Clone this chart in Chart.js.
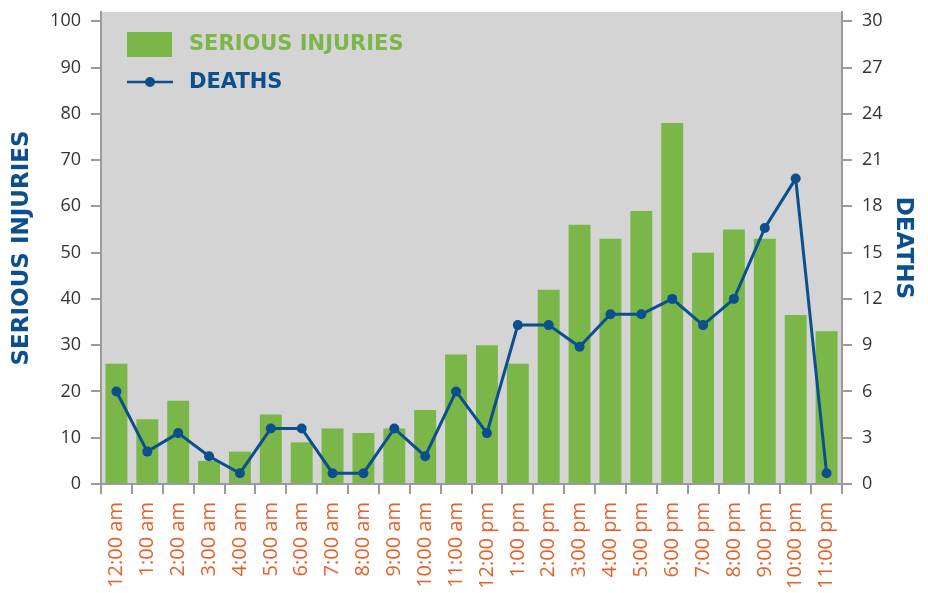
<!DOCTYPE html>
<html>
<head>
<meta charset="utf-8">
<script src="https://cdn.jsdelivr.net/npm/chart.js@4/dist/chart.umd.min.js"></script>
<style>
  html, body { margin: 0; padding: 0; background: #ffffff; }
  #wrap { width: 928px; height: 593px; }
</style>
</head>
<body>
<div id="wrap"><canvas id="c" width="928" height="593"></canvas></div>
<script>
const categories = ['12:00 am','1:00 am','2:00 am','3:00 am','4:00 am','5:00 am','6:00 am','7:00 am','8:00 am','9:00 am','10:00 am','11:00 am',
                    '12:00 pm','1:00 pm','2:00 pm','3:00 pm','4:00 pm','5:00 pm','6:00 pm','7:00 pm','8:00 pm','9:00 pm','10:00 pm','11:00 pm'];
const seriousInjuries = [26,14,18,5,7,15,9,12,11,12,16,28,30,26,42,56,53,59,78,50,55,53,36.5,33];
const deaths = [6,2.1,3.3,1.8,0.7,3.6,3.6,0.7,0.7,3.6,1.8,6,3.3,10.3,10.3,8.9,11,11,12,10.3,12,16.6,19.8,0.7];
const leftTicks = [0,10,20,30,40,50,60,70,80,90,100];
const rightTicks = [0,3,6,9,12,15,18,21,24,27,30];

const GREEN = '#7ab648';
const BLUE = '#0b4f8f';
const ORANGE = '#e5602a';
const AXIS = '#9a9a9a';
const TXT = '#333333';

const bgPlugin = {
  id: 'bg',
  beforeDraw(chart) {
    const a = chart.chartArea, ctx = chart.ctx;
    ctx.save();
    ctx.fillStyle = '#d4d4d4';
    ctx.fillRect(a.left, a.top, a.right - a.left, a.bottom - a.top);
    ctx.restore();
  }
};

const legendPlugin = {
  id: 'customLegend',
  afterDraw(chart) {
    const a = chart.chartArea, ctx = chart.ctx;
    const x0 = a.left + 26, y1 = a.top + 32, y2 = a.top + 70;
    ctx.save();
    ctx.fillStyle = GREEN;
    ctx.fillRect(x0, y1 - 12, 45, 25);
    ctx.font = 'bold 21px "DejaVu Sans"';
    ctx.textBaseline = 'middle';
    ctx.fillText('SERIOUS INJURIES', x0 + 62, y1 + 1);
    ctx.strokeStyle = BLUE;
    ctx.lineWidth = 2.5;
    ctx.beginPath();
    ctx.moveTo(x0, y2);
    ctx.lineTo(x0 + 46, y2);
    ctx.stroke();
    ctx.fillStyle = BLUE;
    ctx.beginPath();
    ctx.arc(x0 + 23, y2, 5, 0, Math.PI * 2);
    ctx.fill();
    ctx.fillText('DEATHS', x0 + 62, y2 + 1);
    ctx.restore();
  }
};

new Chart(document.getElementById('c'), {
  type: 'bar',
  data: {
    labels: categories,
    datasets: [
      {
        type: 'line',
        label: 'DEATHS',
        data: deaths,
        yAxisID: 'y1',
        borderColor: BLUE,
        backgroundColor: BLUE,
        borderWidth: 3,
        pointRadius: 5,
        pointBackgroundColor: BLUE,
        pointBorderWidth: 0,
        tension: 0,
        order: 1
      },
      {
        type: 'bar',
        label: 'SERIOUS INJURIES',
        data: seriousInjuries,
        yAxisID: 'y',
        backgroundColor: GREEN,
        barPercentage: 0.71,
        categoryPercentage: 1.0,
        order: 2
      }
    ]
  },
  options: {
    responsive: false,
    animation: false,
    layout: { padding: { top: 12, left: 0, right: 0, bottom: 0 } },
    plugins: { legend: { display: false }, tooltip: { enabled: false } },
    scales: {
      x: {
        offset: true,
        grid: { offset: true, drawOnChartArea: false, drawTicks: true, tickLength: 10, color: AXIS, lineWidth: 2 },
        border: { display: true, color: AXIS, width: 2 },
        ticks: {
          color: ORANGE, font: { family: '"Open Sans"', size: 20 },
          minRotation: 90, maxRotation: 90, autoSkip: false, padding: 8
        },
        afterFit(s) { s.height = 109; }
      },
      y: {
        position: 'left',
        min: 0, max: 102,
        afterBuildTicks(s) { s.ticks = leftTicks.map(v => ({ value: v })); },
        grid: { drawOnChartArea: false, drawTicks: true, tickLength: 10, color: AXIS, lineWidth: 2 },
        border: { display: true, color: AXIS, width: 2 },
        ticks: { color: TXT, font: { family: '"Open Sans"', size: 18 }, padding: 10 },
        title: {
          display: true, text: 'SERIOUS INJURIES', color: BLUE,
          font: { family: '"DejaVu Sans"', size: 23, weight: 'bold' },
          padding: { top: 8, bottom: 0 }
        },
        afterFit(s) { s.width = 101; s.paddingTop = 0; s.paddingBottom = 0; }
      },
      y1: {
        position: 'right',
        min: 0, max: 30.6,
        afterBuildTicks(s) { s.ticks = rightTicks.map(v => ({ value: v })); },
        grid: { drawOnChartArea: false, drawTicks: true, tickLength: 10, color: AXIS, lineWidth: 2 },
        border: { display: true, color: AXIS, width: 2 },
        ticks: { color: TXT, font: { family: '"Open Sans"', size: 18 }, padding: 10 },
        title: {
          display: true, text: 'DEATHS', color: BLUE,
          font: { family: '"DejaVu Sans"', size: 23, weight: 'bold' },
          padding: { top: 11, bottom: 0 }
        },
        afterFit(s) { s.width = 86; s.paddingTop = 0; s.paddingBottom = 0; }
      }
    }
  },
  plugins: [bgPlugin, legendPlugin]
});
</script>
</body>
</html>
